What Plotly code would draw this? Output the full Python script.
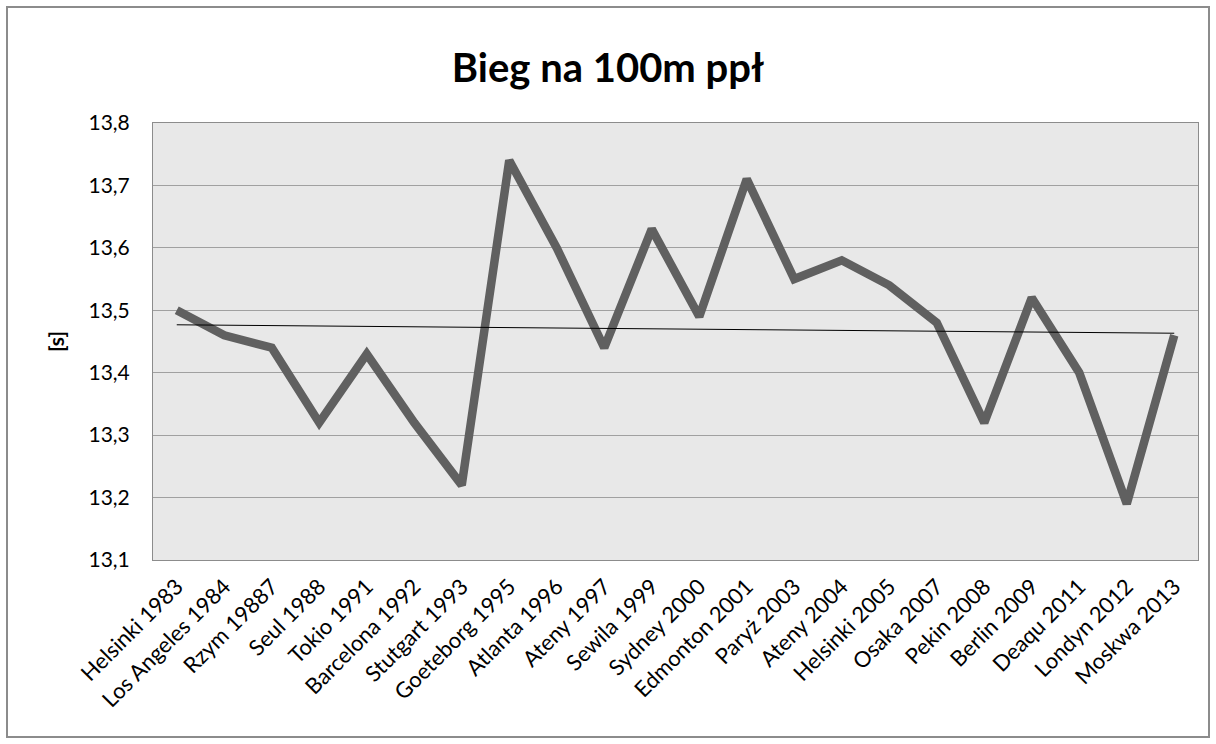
import numpy as np
import plotly.graph_objects as go

# Mistrzostwa / igrzyska i czasy w biegu na 100 m ppł
miejsca = ['Helsinki 1983', 'Los Angeles 1984', 'Rzym 19887', 'Seul 1988', 'Tokio 1991',
           'Barcelona 1992', 'Stutgart 1993', 'Goeteborg 1995', 'Atlanta 1996', 'Ateny 1997',
           'Sewila 1999', 'Sydney 2000', 'Edmonton 2001', 'Paryż 2003', 'Ateny 2004',
           'Helsinki 2005', 'Osaka 2007', 'Pekin 2008', 'Berlin 2009', 'Deaqu 2011',
           'Londyn 2012', 'Moskwa 2013']
czasy = [13.50, 13.46, 13.44, 13.32, 13.43, 13.32, 13.22, 13.74, 13.60, 13.44, 13.63,
         13.49, 13.71, 13.55, 13.58, 13.54, 13.48, 13.32, 13.52, 13.40, 13.19, 13.46]
y_ticks = [13.1, 13.2, 13.3, 13.4, 13.5, 13.6, 13.7, 13.8]

# linia trendu (liniowa)
idx = np.arange(len(czasy))
a, b = np.polyfit(idx, czasy, 1)
trend = a * idx + b

FONT = 'Lato, Carlito, Calibri, sans-serif'

fig = go.Figure()
fig.add_trace(go.Scatter(
    x=miejsca, y=czasy, mode='lines',
    line=dict(color='#606060', width=8.5),
    showlegend=False
))
fig.add_trace(go.Scatter(
    x=miejsca, y=trend, mode='lines',
    line=dict(color='black', width=1),
    showlegend=False
))

L, R, T, B = 153, 18, 123, 184
pw, ph = 1216 - L - R, 744 - T - B

fig.update_layout(
    width=1216, height=744,
    margin=dict(l=L, r=R, t=T, b=B),
    paper_bgcolor='white',
    plot_bgcolor='#e8e8e8',
    separators=', ',
    font=dict(family=FONT, color='black', size=20),
    title=dict(text='<b>Bieg na 100m ppł</b>', x=0.5, xref='container', xanchor='center',
               y=0.908, yanchor='middle', font=dict(size=40, family=FONT)),
    xaxis=dict(
        type='category', range=[-0.5, len(miejsca) - 0.5],
        tickangle=-45, showgrid=False, ticks='',
        showline=True, linecolor='#8c8c8c', linewidth=1, mirror=True,
        tickfont=dict(size=22), ticklabelstandoff=4
    ),
    yaxis=dict(
        range=[13.1, 13.8], tickvals=y_ticks, tickformat='.1f',
        showgrid=True, gridcolor='#a0a0a0', gridwidth=1,
        showline=True, linecolor='#8c8c8c', linewidth=1, mirror=True,
        zeroline=False, ticks='', ticklen=0, ticklabelstandoff=18,
        title=dict(text='<b>[s]</b>', font=dict(size=21), standoff=18),
        tickfont=dict(size=21)
    ),
    shapes=[dict(
        type='rect', xref='paper', yref='paper',
        x0=(7 - L) / pw, x1=(1209 - L) / pw,
        y0=(744 - B - 737) / ph, y1=(744 - B - 7) / ph,
        line=dict(color='#8c8c8c', width=2), layer='below'
    )]
)

fig.write_html('out.html', config={'displayModeBar': False},
               post_script="document.body.style.margin='0';")
